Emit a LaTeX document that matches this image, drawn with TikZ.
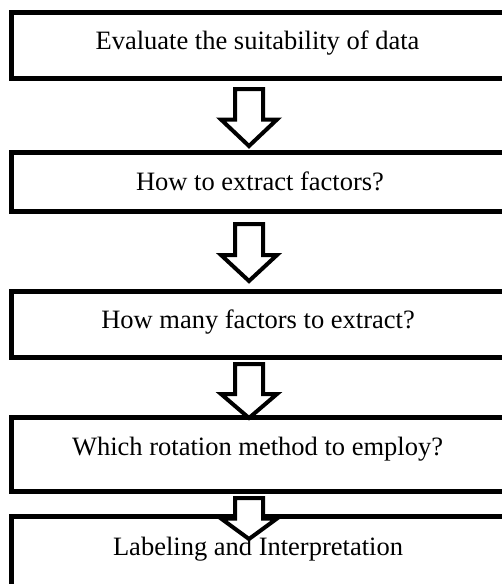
\documentclass[tikz,border=0pt]{standalone}
\usepackage{fontspec}
\setmainfont{Liberation Serif}
\usetikzlibrary{calc}
\newcommand\blockarrow[5]{% from node, to node, gap below from, head length, tip offset from to-top
  \draw[barrow] let \p1=(#1.south), \p2=(#2.north) in
   ({235pt},{\y1-(#3)}) -- ({263pt},{\y1-(#3)}) -- ({263pt},{\y2-(#5)+(#4)}) -- ({277pt},{\y2-(#5)+(#4)})
   -- ({249pt},{\y2-(#5)}) -- ({221pt},{\y2-(#5)+(#4)}) -- ({235pt},{\y2-(#5)+(#4)}) -- cycle;
}
\begin{document}
\begin{tikzpicture}[x=1pt,y=-1pt,
  box/.style={draw, line width=5pt, inner sep=0pt, outer sep=0pt, minimum width=493.5pt},
  txt/.style={anchor=base, inner sep=0pt, font=\fontsize{26.5}{30}\selectfont},
  barrow/.style={draw, line width=4pt, fill=white}]
\useasboundingbox (0,0) rectangle (502,584);
\node[box, minimum height=66pt]    (b1) at (258.25,45.5)  {};
\node[box, minimum height=59pt]    (b2) at (258.25,182)   {};
\node[box, minimum height=66pt]    (b3) at (258.25,324.5) {};
\node[box, minimum height=74pt]    (b4) at (258.25,454.5) {};
\node[box, minimum height=123.5pt] (b5) at (258.25,578.25) {};
\node[txt] (t1) at (257.5,49)  {Evaluate the suitability of data};
\node[txt] (t2) at (260,190)   {How to extract factors?};
\node[txt] (t3) at (258,328)   {How many factors to extract?};
\node[txt] (t4) at (257.5,455) {Which rotation method to employ?};
\node[txt] (t5) at (258,555)   {Labeling and Interpretation};
\blockarrow{b1}{b2}{10.5pt}{26.5pt}{-6.5pt}
\blockarrow{b2}{b3}{12.5pt}{26pt}{-10.5pt}
\blockarrow{b3}{b4}{6.5pt}{24pt}{0.5pt}
\blockarrow{b4}{b5}{6.5pt}{20.5pt}{22.5pt}
\end{tikzpicture}
\end{document}
